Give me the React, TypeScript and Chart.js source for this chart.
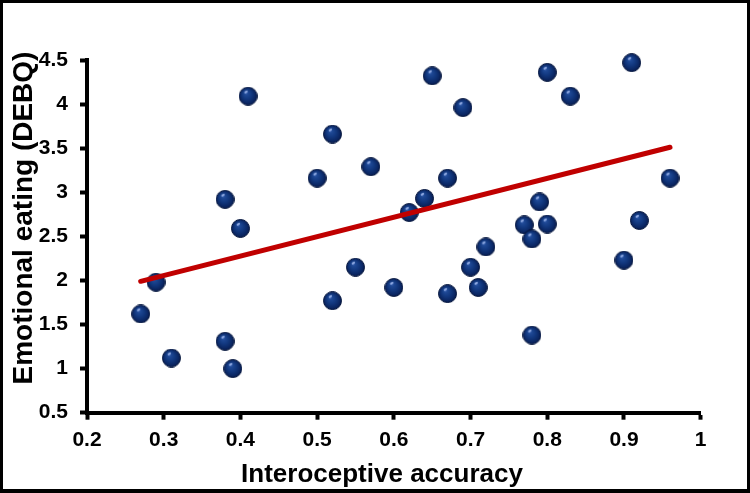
import React, { useEffect, useRef } from 'react';
import { Chart, registerables } from 'chart.js';

Chart.register(...registerables);

// ---- data ----
const accuracy = [0.27, 0.29, 0.31, 0.38, 0.38, 0.39, 0.40, 0.41, 0.50, 0.52, 0.52, 0.55, 0.57, 0.60, 0.62, 0.64, 0.65, 0.67, 0.67, 0.69, 0.70, 0.71, 0.72, 0.77, 0.78, 0.78, 0.79, 0.80, 0.80, 0.83, 0.90, 0.91, 0.92, 0.96];
const emotionalEating = [1.62, 1.98, 1.12, 1.31, 2.92, 1.00, 2.59, 4.09, 3.16, 3.66, 1.77, 2.15, 3.29, 1.92, 2.77, 2.93, 4.32, 1.85, 3.16, 3.96, 2.15, 1.92, 2.38, 2.63, 2.47, 1.38, 2.89, 2.64, 4.36, 4.09, 2.23, 4.47, 2.68, 3.16];
const trendX = [0.27, 0.96];
const trendY = [1.99, 3.51];
const xTicks = [0.2, 0.3, 0.4, 0.5, 0.6, 0.7, 0.8, 0.9, 1];
const yTicks = [0.5, 1, 1.5, 2, 2.5, 3, 3.5, 4, 4.5];
const xTitle = 'Interoceptive accuracy';
const yTitle = 'Emotional eating (DEBQ)';

const FONT = '"Liberation Sans", Arial, Helvetica, sans-serif';

function makeSphere(size: number): HTMLCanvasElement {
  const c = document.createElement('canvas');
  c.width = size;
  c.height = size;
  const ctx = c.getContext('2d')!;
  const r = size / 2;
  const g = ctx.createRadialGradient(r * 0.75, r * 0.6, 0, r, r, r);
  g.addColorStop(0, '#4f78c4');
  g.addColorStop(0.18, '#1f4996');
  g.addColorStop(0.5, '#12387f');
  g.addColorStop(0.85, '#0a245f');
  g.addColorStop(1, '#05153f');
  ctx.beginPath();
  ctx.arc(r, r, r - 0.5, 0, Math.PI * 2);
  ctx.fillStyle = g;
  ctx.fill();
  ctx.lineWidth = 1;
  ctx.strokeStyle = '#06173f';
  ctx.stroke();
  ctx.beginPath();
  ctx.ellipse(r * 0.78, r * 0.55, r * 0.2, r * 0.12, -0.5, 0, Math.PI * 2);
  ctx.fillStyle = 'rgba(180,200,250,0.7)';
  ctx.fill();
  return c;
}

const framePlugin = {
  id: 'frameAndTitles',
  beforeDraw(chart: any) {
    const ctx = chart.ctx;
    ctx.save();
    ctx.fillStyle = '#ffffff';
    ctx.fillRect(0, 0, chart.width, chart.height);
    ctx.restore();
  },
  afterDraw(chart: any) {
    const ctx = chart.ctx;
    const w = chart.width;
    const h = chart.height;
    ctx.save();
    ctx.fillStyle = '#000000';
    ctx.fillRect(0, 0, w, 3);
    ctx.fillRect(0, 0, 3, h);
    ctx.fillRect(w - 3, 0, 3, h);
    ctx.fillRect(0, h - 4, w, 4);

    ctx.fillStyle = '#000000';
    ctx.textAlign = 'center';
    ctx.textBaseline = 'alphabetic';
    ctx.font = `bold 26px ${FONT}`;
    ctx.fillText(xTitle, 382, 482);

    ctx.translate(32, 218);
    ctx.rotate(-Math.PI / 2);
    ctx.font = `bold 28px ${FONT}`;
    ctx.fillText(yTitle, 0, 0);
    ctx.restore();
  },
};

export default function App() {
  const ref = useRef<HTMLCanvasElement | null>(null);

  useEffect(() => {
    if (!ref.current) return;
    const sphere = makeSphere(19);
    const points = accuracy.map((x, i) => ({ x, y: emotionalEating[i] }));
    const trend = trendX.map((x, i) => ({ x, y: trendY[i] }));

    const chart = new Chart(ref.current, {
      type: 'scatter',
      data: {
        datasets: [
          {
            label: 'Trend',
            data: trend,
            showLine: true,
            borderColor: '#c00000',
            borderWidth: 5,
            borderCapStyle: 'round',
            pointRadius: 0,
            order: 0,
            clip: false,
          } as any,
          {
            label: 'Participants',
            data: points,
            pointStyle: sphere as any,
            pointRadius: 9,
            order: 1,
            clip: false,
          } as any,
        ],
      },
      options: {
        animation: false,
        responsive: false,
        devicePixelRatio: 1,
        layout: { padding: { top: 60, right: 49.3, left: 0, bottom: 0 } },
        plugins: {
          legend: { display: false },
          tooltip: { enabled: false },
          title: { display: false },
        },
        scales: {
          x: {
            type: 'linear',
            min: 0.2,
            max: 1,
            afterBuildTicks: (scale: any) => {
              scale.ticks = xTicks.map((v) => ({ value: v }));
            },
            afterFit: (scale: any) => {
              scale.height = 80.3;
            },
            ticks: {
              color: '#000000',
              font: { family: FONT, size: 21, weight: 'bold' },
              padding: 8,
              maxRotation: 0,
              autoSkip: false,
              callback: (v: any) => String(Number(Number(v).toFixed(1))),
            },
            grid: {
              display: true,
              drawOnChartArea: false,
              drawTicks: true,
              tickLength: 7,
              tickWidth: 4,
              tickColor: '#000000',
            },
            border: { display: true, color: '#000000', width: 4 },
          },
          y: {
            type: 'linear',
            min: 0.5,
            max: 4.5,
            afterBuildTicks: (scale: any) => {
              scale.ticks = yTicks.map((v) => ({ value: v }));
            },
            afterFit: (scale: any) => {
              scale.width = 87;
            },
            ticks: {
              color: '#000000',
              font: { family: FONT, size: 21, weight: 'bold' },
              padding: 12,
              autoSkip: false,
              callback: (v: any) => String(Number(Number(v).toFixed(1))),
            },
            grid: {
              display: true,
              drawOnChartArea: false,
              drawTicks: true,
              tickLength: 7,
              tickWidth: 4,
              tickColor: '#000000',
            },
            border: { display: true, color: '#000000', width: 4 },
          },
        },
      },
      plugins: [framePlugin],
    });
    return () => chart.destroy();
  }, []);

  return (
    <div style={{ position: 'fixed', left: 0, top: 0, width: 750, height: 493 }}>
      <canvas ref={ref} width={750} height={493} style={{ display: 'block', width: 750, height: 493 }} />
    </div>
  );
}
